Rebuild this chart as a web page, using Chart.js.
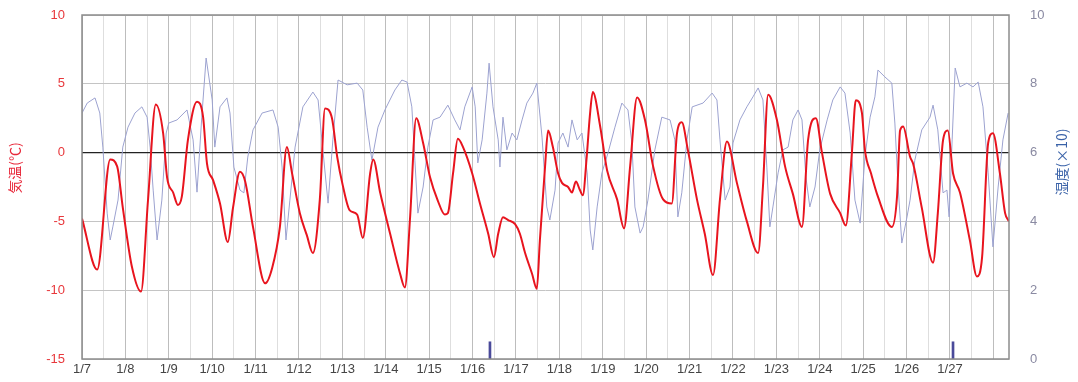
<!DOCTYPE html>
<html>
<head>
<meta charset="utf-8">
<script src="https://cdn.jsdelivr.net/npm/chart.js@4"></script>
<style>
html,body{margin:0;padding:0;background:#fff;}
#wrap{width:1078px;height:382px;}
</style>
</head>
<body>
<div id="wrap"><canvas id="c" width="1078" height="382"></canvas></div>
<script>
// X axis: days since 1/7 00:00
const dayLabels = ["1/7","1/8","1/9","1/10","1/11","1/12","1/13","1/14","1/15","1/16","1/17","1/18","1/19","1/20","1/21","1/22","1/23","1/24","1/25","1/26","1/27"];

// Temperature (°C)
const tempTimes = [0.00,0.35,0.65,0.81,0.94,1.15,1.36,1.52,1.70,1.87,1.96,2.10,2.21,2.30,2.44,2.65,2.79,2.88,3.02,3.18,3.36,3.48,3.64,3.76,3.94,4.22,4.38,4.56,4.72,4.84,5.02,5.18,5.32,5.48,5.60,5.76,5.88,6.01,6.17,6.34,6.47,6.64,6.71,6.87,7.10,7.33,7.44,7.56,7.70,7.86,8.02,8.20,8.36,8.43,8.55,8.66,8.78,8.99,9.17,9.36,9.49,9.59,9.70,9.82,9.98,10.09,10.21,10.37,10.48,10.55,10.67,10.74,10.85,10.97,11.06,11.20,11.29,11.38,11.47,11.54,11.63,11.70,11.77,11.94,12.10,12.33,12.49,12.63,12.79,12.97,13.16,13.39,13.59,13.71,13.82,13.96,14.17,14.35,14.54,14.70,14.86,15.09,15.32,15.58,15.69,15.81,16.01,16.20,16.38,16.59,16.73,16.91,17.05,17.24,17.47,17.60,17.74,17.83,17.97,18.04,18.18,18.34,18.66,18.78,18.85,18.92,19.08,19.15,19.35,19.61,19.72,19.84,19.95,20.07,20.23,20.46,20.62,20.74,20.88,20.99,21.15,21.27,21.36];
const tempValues = [-4.8,-8.5,-0.5,-1.0,-4.0,-8.3,-10.1,-3.5,3.5,1.4,-1.8,-2.9,-3.8,-3.2,0.9,3.7,2.6,-0.8,-2.0,-3.7,-6.5,-4.0,-1.4,-2.1,-5.4,-9.5,-8.4,-5.4,0.4,-1.5,-4.4,-6.0,-7.3,-3.4,3.2,2.5,-0.3,-2.4,-4.2,-4.5,-6.2,-1.5,-0.5,-2.9,-5.9,-8.8,-9.8,-4.7,2.5,0.7,-1.8,-3.5,-4.5,-4.4,-1.5,1.0,0.4,-1.5,-3.7,-5.9,-7.6,-5.9,-4.7,-4.9,-5.2,-5.9,-7.3,-8.8,-9.9,-6.4,-1.0,1.6,0.4,-1.5,-2.2,-2.5,-2.9,-2.1,-2.7,-3.1,-0.3,2.6,4.4,1.9,-1.3,-3.4,-5.5,-1.0,4.0,2.4,-1.0,-3.4,-3.7,1.4,2.2,0.2,-3.4,-5.9,-8.9,-3.4,0.8,-2.2,-5.0,-7.3,-2.5,4.2,2.4,-1.0,-3.0,-5.4,0.9,2.5,0.0,-3.0,-4.4,-5.3,0.0,3.8,2.9,0.2,-1.5,-3.2,-5.4,-3.2,1.6,1.9,-0.3,-0.8,-4.0,-8.0,-4.4,0.9,1.6,-1.5,-2.9,-6.4,-9.0,-7.6,0.7,1.4,-1.5,-4.4,-5.0];

// Humidity (x10 %)
const humTimes = [0.00,0.12,0.30,0.41,0.48,0.58,0.65,0.71,0.83,0.94,1.06,1.22,1.38,1.50,1.57,1.64,1.73,1.84,1.94,2.00,2.19,2.42,2.56,2.65,2.76,2.86,3.00,3.06,3.18,3.34,3.41,3.50,3.64,3.73,3.82,3.94,4.15,4.40,4.52,4.61,4.70,4.79,4.91,5.09,5.32,5.44,5.55,5.67,5.78,5.90,6.11,6.34,6.47,6.57,6.68,6.82,6.98,7.21,7.37,7.49,7.60,7.67,7.74,7.86,7.97,8.09,8.25,8.43,8.59,8.71,8.82,8.99,9.06,9.12,9.22,9.33,9.38,9.47,9.59,9.63,9.70,9.79,9.91,10.02,10.14,10.25,10.39,10.48,10.60,10.71,10.78,10.90,10.97,11.08,11.20,11.29,11.41,11.52,11.64,11.71,11.77,11.87,11.98,12.12,12.28,12.44,12.58,12.67,12.74,12.86,12.93,13.04,13.20,13.36,13.55,13.66,13.73,13.82,13.94,14.06,14.31,14.52,14.63,14.70,14.82,14.93,15.00,15.16,15.32,15.46,15.58,15.69,15.78,15.85,15.92,16.04,16.15,16.27,16.38,16.50,16.59,16.68,16.77,16.89,17.00,17.17,17.30,17.47,17.58,17.70,17.81,17.93,18.04,18.16,18.27,18.34,18.50,18.66,18.73,18.80,18.89,19.01,19.08,19.19,19.35,19.54,19.61,19.72,19.84,19.93,19.98,20.05,20.12,20.23,20.39,20.53,20.65,20.76,20.88,20.99,21.11,21.22,21.34];
const humValues = [7.15,7.44,7.59,7.15,6.16,4.24,3.46,3.84,4.62,6.16,6.74,7.15,7.33,7.03,6.16,4.91,3.46,4.62,6.57,6.86,6.95,7.24,6.37,4.85,7.03,8.75,7.53,6.16,7.33,7.59,7.15,5.58,4.91,4.83,5.87,6.66,7.15,7.24,6.74,5.58,3.46,4.62,6.16,7.33,7.76,7.53,6.08,4.53,6.37,8.11,7.97,8.02,7.82,6.74,5.78,6.74,7.24,7.82,8.11,8.05,7.33,5.78,4.24,5.00,6.16,6.95,7.03,7.38,6.95,6.66,7.33,7.91,7.33,5.70,6.37,7.73,8.60,7.33,6.37,5.58,7.03,6.08,6.57,6.37,6.95,7.44,7.73,8.02,6.45,4.42,4.04,4.91,6.28,6.57,6.16,6.95,6.37,6.57,5.41,3.75,3.17,4.42,5.41,5.99,6.74,7.44,7.24,6.28,4.42,3.66,3.84,4.62,6.08,7.03,6.95,6.37,4.13,4.83,6.37,7.33,7.44,7.73,7.53,6.37,4.62,5.00,6.28,6.95,7.33,7.62,7.88,7.53,5.58,3.84,4.42,5.41,6.08,6.16,6.95,7.24,6.95,5.29,4.42,5.00,6.08,6.95,7.53,7.91,7.73,6.57,4.62,3.95,5.87,7.03,7.62,8.40,8.20,8.02,6.86,5.12,3.37,4.13,4.62,5.78,6.66,7.03,7.38,6.66,4.83,4.91,4.13,6.37,8.46,7.91,8.02,7.91,8.05,7.33,5.41,3.26,5.00,6.37,7.15];

// Small blue marks at the bottom (right axis)
const rainTimes = [9.40, 20.07];
const rainValues = [0.5, 0.5];

const toXY = (ts, vs) => ts.map((t, i) => ({x: t, y: vs[i]}));
const tv = (c) => (c && c.tick) ? c.tick.value : NaN;
const noPad = (s) => { s.paddingTop = 0; s.paddingBottom = 0; s.paddingLeft = 0; s.paddingRight = 0; };

const titlePlugin = {
  id: 'frameTitles',
  afterDraw(chart) {
    const ctx = chart.ctx, a = chart.chartArea;
    ctx.save();
    ctx.strokeStyle = '#8c8c8c';
    ctx.lineWidth = 1.5;
    ctx.strokeRect(a.left, a.top, a.right - a.left, a.bottom - a.top);
    ctx.textAlign = 'center';
    ctx.textBaseline = 'middle';
    ctx.font = '14px "Noto Sans CJK JP"';
    ctx.fillStyle = '#e8283a';
    ctx.translate(15, 168);
    ctx.rotate(-Math.PI / 2);
    ctx.fillText('気温(℃)', 0, 0);
    ctx.restore();
    ctx.save();
    ctx.textAlign = 'center';
    ctx.textBaseline = 'middle';
    ctx.font = '14px "Noto Sans CJK JP"';
    ctx.fillStyle = '#3a62a8';
    ctx.translate(1062, 162);
    ctx.rotate(-Math.PI / 2);
    ctx.fillText('湿度(×10)', 0, 0);
    ctx.restore();
  }
};

new Chart(document.getElementById('c'), {
  type: 'line',
  data: {
    datasets: [
      {type: 'line', label: '気温', data: toXY(tempTimes, tempValues), borderColor: '#e8141e', borderWidth: 2, pointRadius: 0, cubicInterpolationMode: 'monotone', yAxisID: 'y', order: 0},
      {type: 'line', label: '湿度', data: toXY(humTimes, humValues), borderColor: '#9ca2d0', borderWidth: 1, pointRadius: 0, tension: 0, yAxisID: 'y2', order: 1},
      {type: 'bar', label: '降水', data: toXY(rainTimes, rainValues), backgroundColor: '#4a4a9a', barThickness: 2, yAxisID: 'y2', order: 2}
    ]
  },
  options: {
    responsive: false,
    animation: false,
    layout: {padding: {top: 15, left: 0, right: 0, bottom: 0}},
    plugins: {legend: {display: false}, tooltip: {enabled: false}},
    scales: {
      x: {
        type: 'linear', min: 0, max: 21.36, offset: false,
        afterBuildTicks(s) { const t = []; for (let i = 0; i <= 42; i++) t.push({value: i / 2}); s.ticks = t; },
        ticks: {autoSkip: false, maxRotation: 0, color: '#444', font: {family: 'Liberation Sans', size: 13}, padding: 3,
          callback: (v) => (Number.isInteger(v) && dayLabels[v]) ? dayLabels[v] : ''},
        grid: {offset: false, color: (c) => Number.isInteger(tv(c)) ? '#bdbdbd' : '#dedede', drawTicks: false},
        border: {display: false},
        afterFit(s) { s.height = 23; noPad(s); }
      },
      y: {
        position: 'left', min: -15, max: 10,
        afterBuildTicks(s) { s.ticks = [-15, -10, -5, 0, 5, 10].map(v => ({value: v})); },
        ticks: {color: '#e8383c', font: {family: 'Liberation Sans', size: 13}, padding: 17},
        grid: {color: (c) => tv(c) === 0 ? '#222' : '#c4c4c4', lineWidth: (c) => tv(c) === 0 ? 1.3 : 1, drawTicks: false},
        border: {display: false},
        afterFit(s) { s.width = 82; noPad(s); }
      },
      y2: {
        position: 'right', min: 0, max: 10,
        afterBuildTicks(s) { s.ticks = [0, 2, 4, 6, 8, 10].map(v => ({value: v})); },
        ticks: {color: '#8a8aa2', font: {family: 'Liberation Sans', size: 13}, padding: 21},
        grid: {display: false, drawTicks: false},
        border: {display: false},
        afterFit(s) { s.width = 69; noPad(s); }
      }
    }
  },
  plugins: [titlePlugin]
});
</script>
</body>
</html>
